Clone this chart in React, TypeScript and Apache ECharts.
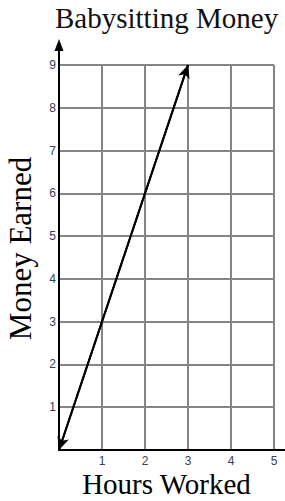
import React, { useEffect, useRef } from 'react';
import * as echarts from 'echarts';

const hoursWorked = [0, 3];
const moneyEarned = [0, 9];
const xRange = [0, 5];
const yRange = [0, 9];
const titleText = 'Babysitting Money';
const xName = 'Hours Worked';
const yName = 'Money Earned';

export default function App() {
  const ref = useRef<HTMLDivElement>(null);
  useEffect(() => {
    const chart = echarts.init(ref.current!, null, { renderer: 'svg' });
    const labelStyle = {
      color: '#33405c',
      fontFamily: 'Liberation Sans',
      fontSize: 12,
      lineHeight: 13,
    };
    chart.setOption({
      animation: false,
      title: {
        text: titleText,
        left: 55,
        top: 3,
        padding: 0,
        textStyle: { color: '#111', fontFamily: 'Liberation Serif', fontSize: 29, fontWeight: 'normal' },
      },
      grid: { left: 59, right: 11, top: 65, bottom: 51, outerBoundsMode: 'none', containLabel: false },
      xAxis: {
        type: 'value',
        min: xRange[0],
        max: xRange[1],
        interval: 1,
        name: xName,
        nameLocation: 'middle',
        nameGap: 19,
        nameMoveOverlap: false,
        nameTextStyle: { color: '#000', fontFamily: 'Liberation Serif', fontSize: 29, lineHeight: 29 },
        axisLine: { lineStyle: { color: '#000', width: 2 } },
        axisTick: { show: false },
        axisLabel: { ...labelStyle, margin: 4, formatter: (v: number) => (v === 0 ? '' : String(v)) },
        splitLine: { lineStyle: { color: '#858585', width: 2 } },
      },
      yAxis: {
        type: 'value',
        min: yRange[0],
        max: yRange[1],
        interval: 1,
        name: yName,
        nameLocation: 'middle',
        nameGap: 23,
        nameMoveOverlap: false,
        nameTextStyle: { color: '#000', fontFamily: 'Liberation Serif', fontSize: 31, padding: [0, 0, 0, 18] },
        axisLine: { lineStyle: { color: '#000', width: 2 } },
        axisTick: { show: false },
        axisLabel: { ...labelStyle, margin: 3, formatter: (v: number) => (v === 0 ? '' : String(v)) },
        splitLine: { lineStyle: { color: '#858585', width: 2 } },
      },
      series: [
        {
          type: 'line',
          data: hoursWorked.map((h, i) => [h, moneyEarned[i]]),
          symbol: 'none',
          lineStyle: { color: '#000', width: 2 },
          z: 5,
          markLine: {
            silent: true,
            symbol: ['arrow', 'arrow'],
            symbolSize: [9, 13],
            label: { show: false },
            lineStyle: { color: '#000', width: 2, type: 'solid' },
            data: [
              [
                { coord: [hoursWorked[0], moneyEarned[0]] },
                { coord: [hoursWorked[hoursWorked.length - 1], moneyEarned[moneyEarned.length - 1]] },
              ],
            ],
          },
        },
      ],
    });
    const origin = chart.convertToPixel({ gridIndex: 0 }, [xRange[0], yRange[0]]) as number[];
    const top = chart.convertToPixel({ gridIndex: 0 }, [xRange[0], yRange[1]]) as number[];
    const right = chart.convertToPixel({ gridIndex: 0 }, [xRange[1], yRange[0]]) as number[];
    const tipY = top[1] - 26;
    chart.setOption({
      graphic: [
        {
          type: 'line',
          shape: { x1: top[0], y1: top[1], x2: top[0], y2: tipY + 8 },
          style: { stroke: '#000', lineWidth: 2 },
        },
        {
          type: 'polygon',
          shape: { points: [[top[0], tipY], [top[0] - 4.5, tipY + 12], [top[0] + 4.5, tipY + 12]] },
          style: { fill: '#000' },
        },
        {
          type: 'line',
          shape: { x1: right[0], y1: origin[1], x2: chart.getWidth(), y2: origin[1] },
          style: { stroke: '#000', lineWidth: 2 },
        },
      ],
    });
    return () => chart.dispose();
  }, []);
  return (
    <div
      ref={ref}
      style={{ position: 'fixed', left: 0, top: 0, width: 285, height: 501, background: '#fff' }}
    />
  );
}
